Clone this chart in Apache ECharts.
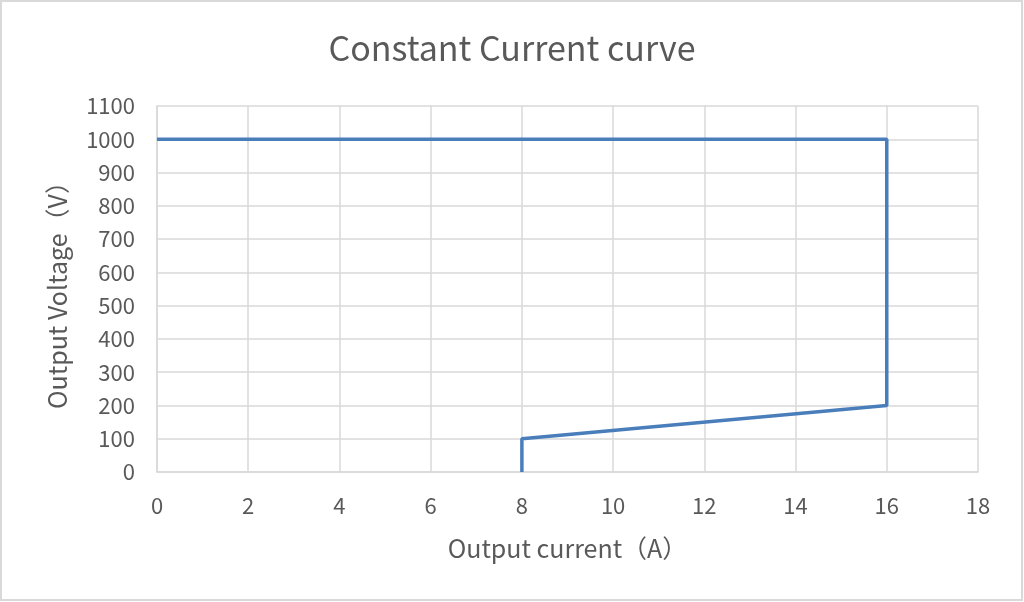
<!DOCTYPE html>
<html><head><meta charset="utf-8">
<script src="https://cdn.jsdelivr.net/npm/echarts@6/dist/echarts.min.js"></script>
<style>html,body{margin:0;padding:0;background:#fff;}#c{width:1024px;height:602px;}</style>
</head><body><div id="c"></div>
<script>
var currentA = [0, 16, 16, 8, 8];
var voltageV = [1000, 1000, 200, 100, 0];
var titleText = 'Constant Current curve';
var xName = 'Output current（A）';
var yName = 'Output Voltage（V）';

var chart = echarts.init(document.getElementById('c'), null, {renderer:'canvas'});
var font = '"Noto Sans CJK SC", sans-serif';
chart.setOption({
  animation:false,
  graphic:[{type:'rect', shape:{x:1,y:1,width:1021,height:599}, style:{fill:'none', stroke:'#d9d9d9', lineWidth:2}, silent:true}],
  title:{text:titleText, left:'center', top:26, textStyle:{fontFamily:font, fontSize:34, fontWeight:'normal', color:'#595959'}},
  grid:{left:157, right:46, top:106, bottom:130},
  xAxis:{type:'value', min:0, max:18, interval:2, name:xName, nameLocation:'middle', nameGap:64,
    nameTextStyle:{fontFamily:font, fontSize:25, color:'#595959'},
    axisLine:{show:true, lineStyle:{color:'#d9d9d9', width:1.5}}, axisTick:{show:false},
    axisLabel:{margin:23, fontFamily:font, fontSize:22, color:'#595959', formatter:function(v){return String(v);}},
    splitLine:{show:true, lineStyle:{color:'#d9d9d9', width:1.5}}},
  yAxis:{type:'value', min:0, max:1100, interval:100, name:yName, nameLocation:'middle', nameGap:87, nameRotate:90,
    nameTextStyle:{fontFamily:font, fontSize:25, color:'#595959'},
    axisLine:{show:true, lineStyle:{color:'#d9d9d9', width:1.5}}, axisTick:{show:false},
    axisLabel:{margin:22, fontFamily:font, fontSize:22, color:'#595959', formatter:function(v){return String(v);}},
    splitLine:{show:true, lineStyle:{color:'#d9d9d9', width:1.5}}},
  series:[{type:'line', data:currentA.map(function(x,i){return [x, voltageV[i]];}),
    showSymbol:false, lineStyle:{color:'#4a7ebb', width:3.5}, itemStyle:{color:'#4a7ebb'}}]
});
</script></body></html>
